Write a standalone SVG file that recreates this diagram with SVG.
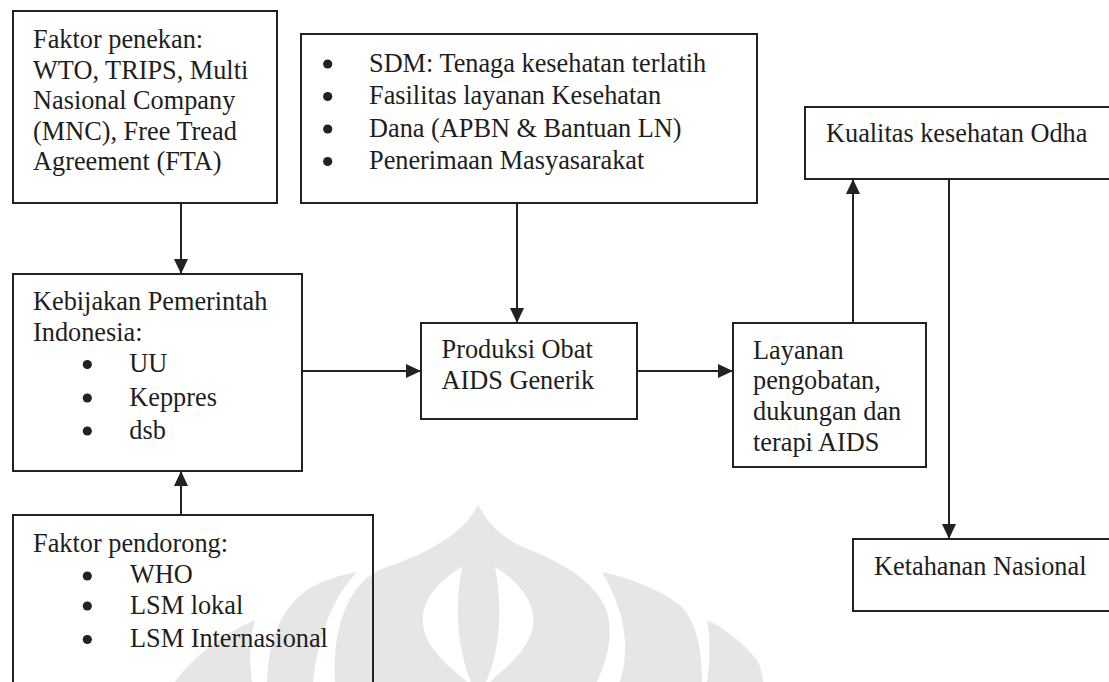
<svg xmlns="http://www.w3.org/2000/svg" width="1109" height="682" viewBox="0 0 1109 682">
<style>
.box{fill:none;stroke:#222;stroke-width:2}
.t{font-family:"Liberation Serif","Times New Roman",serif;font-size:26.3px;fill:#1e1e1e}
.c{stroke:#222;stroke-width:2;fill:none}
.b{fill:#222}
.wm{fill:#e6e6e6}
</style>
<defs>
<marker id="ah" markerUnits="userSpaceOnUse" markerWidth="16" markerHeight="15" refX="15" refY="7" orient="auto">
<path d="M0,0 L15,7 L0,14 Z" fill="#222"/>
</marker>
</defs>
<rect width="1109" height="682" fill="#fff"/>
<g id="watermark">
<path class="wm" fill-rule="evenodd" d="M478,504 C486,522 503,540 530,550 C568,565 598,585 607,612 C614,636 606,662 597,682 L335,682 C333,650 338,610 360,585 C368,576 376,570 390,566 C430,552 466,532 478,504 Z M462,567 C440,580 420,600 423,625 C426,650 452,668 467,682 L471,682 C462,660 452,620 462,567 Z M495,567 C516,580 536,600 533,625 C530,650 505,668 490,682 L486,682 C496,660 505,620 495,567 Z"/>
<path class="wm" d="M602,572 C630,578 660,590 680,605 C695,620 702,645 702,682 L620,682 C628,655 630,620 602,572 Z"/>
<path class="wm" d="M707,620 C725,628 745,645 757,660 C761,668 763,676 763,682 L707,682 C710,660 711,640 707,620 Z"/>
<path class="wm" d="M357,572 C330,600 318,640 313,682 L267,682 C268,640 282,605 310,588 C325,580 340,575 357,572 Z"/>
<path class="wm" d="M255,620 C248,645 250,665 252,682 L175,682 C190,660 220,635 255,620 Z"/>
</g>
<g id="connectors">
<line class="c" x1="181" y1="203" x2="181" y2="274" marker-end="url(#ah)"/>
<line class="c" x1="181" y1="515" x2="181" y2="471" marker-end="url(#ah)"/>
<line class="c" x1="302" y1="371" x2="421" y2="371" marker-end="url(#ah)"/>
<line class="c" x1="517" y1="203" x2="517" y2="323" marker-end="url(#ah)"/>
<line class="c" x1="637" y1="371" x2="733" y2="371" marker-end="url(#ah)"/>
<line class="c" x1="853" y1="323" x2="853" y2="179" marker-end="url(#ah)"/>
<line class="c" x1="949" y1="179" x2="949" y2="539" marker-end="url(#ah)"/>
</g>
<g id="faktor-penekan">
<rect class="box" x="13" y="11" width="264" height="192" fill="#fff"/>
<text class="t" x="33" y="48">Faktor penekan:</text>
<text class="t" x="33" y="78.5">WTO, TRIPS, Multi</text>
<text class="t" x="33" y="109">Nasional Company</text>
<text class="t" x="33" y="139.5">(MNC), Free Tread</text>
<text class="t" x="33" y="170">Agreement (FTA)</text>
</g>
<g id="sumber-daya">
<rect class="box" x="301" y="34" width="456" height="169"/>
<circle class="b" cx="327.7" cy="64" r="4.6"/>
<circle class="b" cx="327.7" cy="96.5" r="4.6"/>
<circle class="b" cx="327.7" cy="129" r="4.6"/>
<circle class="b" cx="327.7" cy="161.5" r="4.6"/>
<text class="t" x="369" y="71.5">SDM: Tenaga kesehatan terlatih</text>
<text class="t" x="369" y="104">Fasilitas layanan Kesehatan</text>
<text class="t" x="369" y="136.5">Dana (APBN &amp; Bantuan LN)</text>
<text class="t" x="369" y="169">Penerimaan Masyasarakat</text>
</g>
<g id="kualitas">
<rect class="box" x="805" y="107" width="320" height="72"/>
<text class="t" x="826" y="142">Kualitas kesehatan Odha</text>
</g>
<g id="kebijakan">
<rect class="box" x="13" y="274" width="289" height="197"/>
<text class="t" x="33" y="310">Kebijakan Pemerintah</text>
<text class="t" x="33" y="340.7">Indonesia:</text>
<circle class="b" cx="87.3" cy="364.5" r="4.6"/>
<circle class="b" cx="87.3" cy="398" r="4.6"/>
<circle class="b" cx="87.3" cy="431" r="4.6"/>
<text class="t" x="129.3" y="372">UU</text>
<text class="t" x="129.3" y="405.5">Keppres</text>
<text class="t" x="129.3" y="438.5">dsb</text>
</g>
<g id="produksi">
<rect class="box" x="421" y="323" width="216" height="96"/>
<text class="t" x="441.5" y="357.5">Produksi Obat</text>
<text class="t" x="441.5" y="388.5">AIDS Generik</text>
</g>
<g id="layanan">
<rect class="box" x="733" y="323" width="193" height="144"/>
<text class="t" x="753" y="358.5">Layanan</text>
<text class="t" x="753" y="389.3">pengobatan,</text>
<text class="t" x="753" y="420">dukungan dan</text>
<text class="t" x="753" y="450.7">terapi AIDS</text>
</g>
<g id="ketahanan">
<rect class="box" x="853" y="539" width="300" height="72"/>
<text class="t" x="874" y="575">Ketahanan Nasional</text>
</g>
<g id="faktor-pendorong">
<rect class="box" x="13" y="515" width="360" height="250"/>
<text class="t" x="33" y="551.7">Faktor pendorong:</text>
<circle class="b" cx="87.3" cy="576" r="4.6"/>
<circle class="b" cx="87.3" cy="606" r="4.6"/>
<circle class="b" cx="87.3" cy="639.5" r="4.6"/>
<text class="t" x="130" y="583.3">WHO</text>
<text class="t" x="130" y="613.5">LSM lokal</text>
<text class="t" x="130" y="647">LSM Internasional</text>
</g>
</svg>
